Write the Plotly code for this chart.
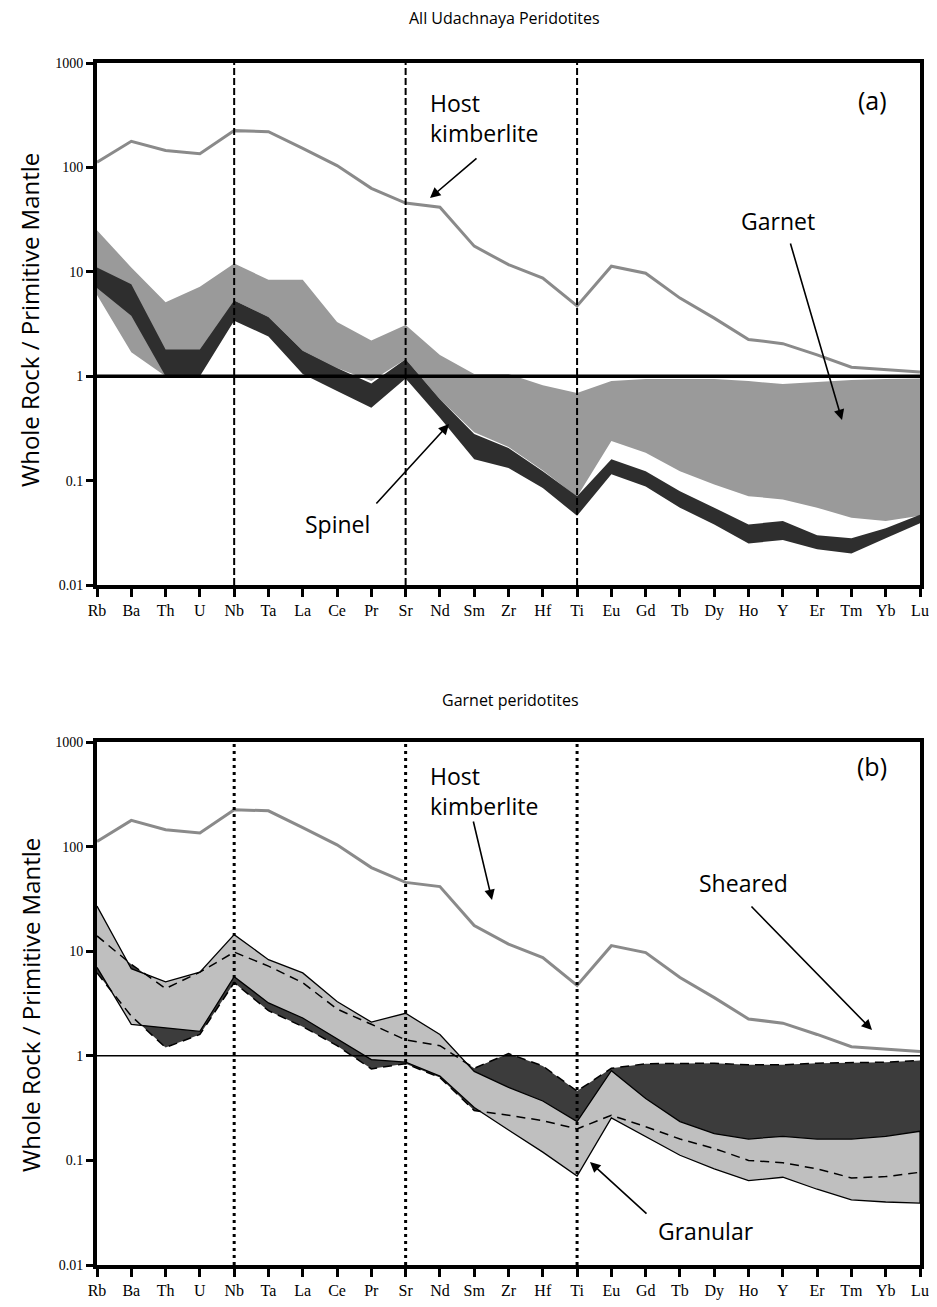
import plotly.graph_objects as go

# ---------------- data ----------------
ELEMENTS = ["Rb", "Ba", "Th", "U", "Nb", "Ta", "La", "Ce", "Pr", "Sr", "Nd", "Sm", "Zr",
            "Hf", "Ti", "Eu", "Gd", "Tb", "Dy", "Ho", "Y", "Er", "Tm", "Yb", "Lu"]

HOST_KIMBERLITE = [112, 178, 145, 135, 225, 220, 152, 104, 63, 45.5, 41.5, 17.6, 11.7,
                   8.7, 4.7, 11.3, 9.7, 5.6, 3.6, 2.25, 2.05, 1.6, 1.22, 1.16, 1.1]

# panel (a): all Udachnaya peridotites
GARNET_UPPER = [25, 11, 5.1, 7.2, 12, 8.4, 8.4, 3.3, 2.2, 3.1, 1.6, 1.05, 1.05,
                0.82, 0.69, 0.9, 0.94, 0.94, 0.94, 0.9, 0.84, 0.88, 0.92, 0.94, 0.95]
GARNET_LOWER = [6, 1.7, 1.0, 1.05, 5.3, 3.7, 1.75, 1.2, 0.9, 1.45, 0.6, 0.29, 0.21,
                0.125, 0.07, 0.24, 0.185, 0.123, 0.092, 0.071, 0.066, 0.055, 0.044, 0.041, 0.046]
SPINEL_UPPER = [11, 7.6, 1.8, 1.8, 5.3, 3.7, 1.75, 1.2, 0.85, 1.45, 0.6, 0.28, 0.205,
                0.123, 0.071, 0.16, 0.123, 0.079, 0.055, 0.038, 0.041, 0.030, 0.028, 0.035, 0.047]
SPINEL_LOWER = [7, 3.8, 1.0, 1.0, 3.4, 2.4, 1.05, 0.72, 0.5, 0.95, 0.4, 0.16, 0.132,
                0.085, 0.046, 0.115, 0.088, 0.055, 0.038, 0.025, 0.027, 0.022, 0.020, 0.028, 0.039]

# panel (b): garnet peridotites
GRANULAR_UPPER = [27, 6.8, 5.1, 6.3, 14.4, 8.3, 6.2, 3.3, 2.1, 2.55, 1.6, 0.71, 0.5,
                  0.37, 0.235, 0.72, 0.39, 0.235, 0.18, 0.16, 0.17, 0.16, 0.16, 0.17, 0.19]
GRANULAR_LOWER = [7, 2.0, 1.84, 1.71, 5.7, 3.2, 2.3, 1.45, 0.92, 0.87, 0.64, 0.32, 0.195,
                  0.12, 0.071, 0.255, 0.17, 0.112, 0.083, 0.064, 0.069, 0.053, 0.042, 0.040, 0.039]
SHEARED_UPPER = [14, 7.5, 4.4, 6.3, 9.8, 7.2, 5.0, 2.8, 2.0, 1.42, 1.25, 0.76, 1.05,
                 0.8, 0.46, 0.76, 0.84, 0.85, 0.85, 0.82, 0.82, 0.85, 0.86, 0.87, 0.9]
SHEARED_LOWER = [6.2, 2.4, 1.2, 1.6, 5.0, 2.7, 1.9, 1.25, 0.75, 0.84, 0.62, 0.3, 0.27,
                 0.24, 0.2, 0.27, 0.21, 0.16, 0.13, 0.1, 0.095, 0.083, 0.068, 0.07, 0.077]

DIVIDERS = ["Nb", "Sr", "Ti"]
Y_TICKS = [0.01, 0.1, 1, 10, 100, 1000]
Y_TICKTEXT = ["0.01", "0.1", "1", "10", "100", "1000"]

# ---------------- figure ----------------
W, H = 937, 1307
OFF = 8  # page body margin offset
IDX = list(range(len(ELEMENTS)))

SERIF = "Liberation Serif"
SANS = "Open Sans"


def band(xa, ya, upper, lower, color, line=None):
    return go.Scatter(
        x=IDX + IDX[::-1], y=list(upper) + list(lower)[::-1],
        xaxis=xa, yaxis=ya, mode="lines", fill="toself", fillcolor=color,
        line=line or dict(width=0, color=color), hoverinfo="skip", showlegend=False)


def line(xa, ya, xs, ys, color, width, dash="solid"):
    return go.Scatter(x=xs, y=ys, xaxis=xa, yaxis=ya, mode="lines",
                      line=dict(color=color, width=width, dash=dash),
                      hoverinfo="skip", showlegend=False)


fig = go.Figure()

# ---- panel (a)
fig.add_trace(band("x", "y", GARNET_UPPER, GARNET_LOWER, "#9a9a9a"))
fig.add_trace(band("x", "y", SPINEL_UPPER, SPINEL_LOWER, "#2e2e2e"))
fig.add_trace(line("x", "y", IDX, HOST_KIMBERLITE, "#8a8a8a", 3))
fig.add_trace(line("x", "y", [IDX[0], IDX[-1]], [1, 1], "black", 3.5))
for el in DIVIDERS:
    i = ELEMENTS.index(el)
    fig.add_trace(line("x", "y", [i, i], [Y_TICKS[0], Y_TICKS[-1]], "black", 2, "7px,3px"))

# ---- panel (b)
fig.add_trace(band("x2", "y2", SHEARED_UPPER, SHEARED_LOWER, "#3c3c3c"))
fig.add_trace(band("x2", "y2", GRANULAR_UPPER, GRANULAR_LOWER, "#bfbfbf",
                   line=dict(color="black", width=1.3)))
fig.add_trace(line("x2", "y2", IDX, SHEARED_UPPER, "black", 1.5, "9px,6px"))
fig.add_trace(line("x2", "y2", IDX, SHEARED_LOWER, "black", 1.5, "9px,6px"))
fig.add_trace(line("x2", "y2", IDX, HOST_KIMBERLITE, "#8a8a8a", 3))
fig.add_trace(line("x2", "y2", [IDX[0], IDX[-1]], [1, 1], "black", 1.5))
for el in DIVIDERS:
    i = ELEMENTS.index(el)
    fig.add_trace(line("x2", "y2", [i, i], [Y_TICKS[0], Y_TICKS[-1]], "black", 3, "3px,4px"))

# ---------------- axes ----------------
def xfrac(px):
    return (px - OFF) / W


def yfrac(py):
    return 1 - (py - OFF) / H


X_DOM = [xfrac(97), xfrac(920)]
TOP_DOM = [yfrac(585), yfrac(63)]
BOT_DOM = [yfrac(1265), yfrac(742)]

xcommon = dict(range=[IDX[0], IDX[-1]], tickmode="array", tickvals=IDX, ticktext=ELEMENTS,
               showline=True, linewidth=4, linecolor="black", mirror=True,
               ticks="outside", ticklen=8, tickwidth=3, tickcolor="black",
               showgrid=False, zeroline=False, automargin=False,
               tickfont=dict(family=SERIF, size=16, color="black"), domain=X_DOM)
ycommon = dict(type="log", range=[-2, 3], tickmode="array", tickvals=Y_TICKS,
               ticktext=Y_TICKTEXT, showline=True, linewidth=4, linecolor="black",
               mirror=True, ticks="outside", ticklen=7, tickwidth=3, tickcolor="black",
               showgrid=False, zeroline=False, automargin=False,
               tickfont=dict(family=SERIF, size=14, color="black"))

fig.update_layout(
    width=W, height=H, margin=dict(l=0, r=0, t=0, b=0, pad=0, autoexpand=False),
    paper_bgcolor="white", plot_bgcolor="white", showlegend=False,
    xaxis=dict(**xcommon, anchor="y"),
    yaxis=dict(**ycommon, domain=TOP_DOM, anchor="x"),
    xaxis2=dict(**xcommon, anchor="y2"),
    yaxis2=dict(**ycommon, domain=BOT_DOM, anchor="x2"),
)


# ---------------- annotations ----------------
def text(px, py, s, size, xanchor="center", align="center", angle=0, family=SANS):
    fig.add_annotation(x=xfrac(px), y=yfrac(py), xref="paper", yref="paper", text=s,
                       showarrow=False, xanchor=xanchor, yanchor="middle", align=align,
                       textangle=angle, font=dict(family=family, size=size, color="black"))


def arrow(hx, hy, tx, ty):
    fig.add_annotation(x=xfrac(hx), y=yfrac(hy), xref="paper", yref="paper", text="",
                       showarrow=True, ax=tx - hx, ay=ty - hy, axref="pixel", ayref="pixel",
                       arrowhead=2, arrowsize=1.3, arrowwidth=1.6, arrowcolor="black",
                       standoff=0, startstandoff=0)


# panel (a)
text(505, 18, "All Udachnaya Peridotites", 16)
text(872, 100, "(a)", 25)
text(428, 118, "Host<br>kimberlite", 23, xanchor="left", align="left")
arrow(430, 198, 478, 157)
text(337, 524, "Spinel", 23)
arrow(449, 424, 375, 505)
text(778, 221, "Garnet", 23)
arrow(842, 420, 790, 242)
text(30, 320, "Whole Rock / Primitive Mantle", 24, angle=-90)

# panel (b)
text(510, 700, "Garnet peridotites", 16)
text(872, 766, "(b)", 25)
text(428, 791, "Host<br>kimberlite", 23, xanchor="left", align="left")
arrow(492, 900, 473, 820)
text(743, 883, "Sheared", 23)
arrow(872, 1030, 750, 905)
text(706, 1231, "Granular", 23)
arrow(590, 1162, 648, 1215)
text(30, 1005, "Whole Rock / Primitive Mantle", 24, angle=-90)

fig.write_html("out.html")
